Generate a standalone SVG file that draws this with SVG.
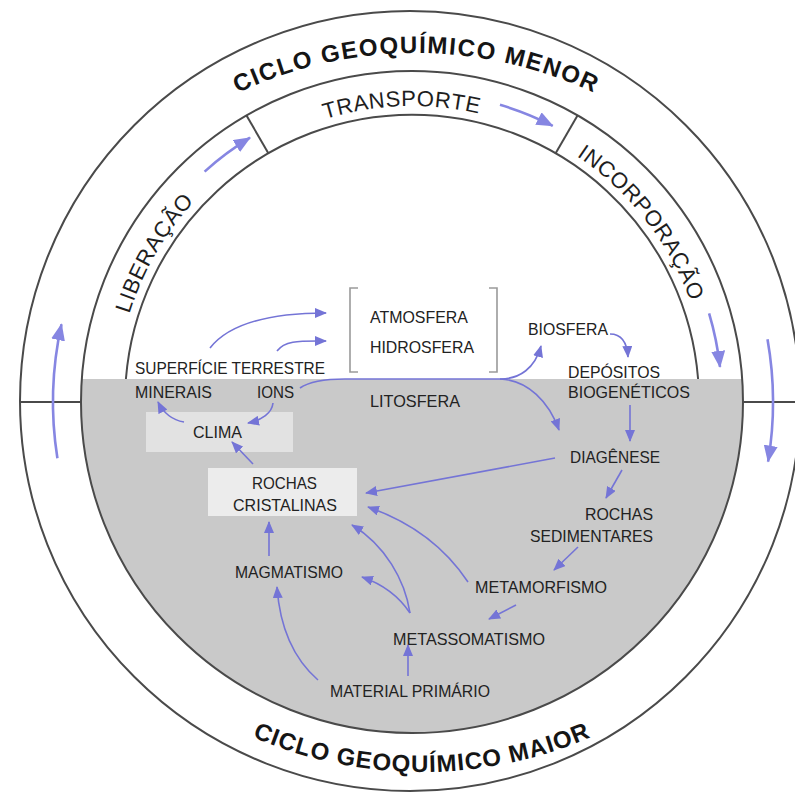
<svg xmlns="http://www.w3.org/2000/svg" width="795" height="793" viewBox="0 0 795 793">
<defs>
<style>
.ring{fill:none;stroke:#4a4a4a;stroke-width:2}
.big{font-family:'Liberation Sans',Arial,sans-serif;font-weight:bold;font-size:24px;fill:#151515;letter-spacing:1.5px}
.mid{font-family:'Liberation Sans',Arial,sans-serif;font-size:22px;fill:#1e1e1e;letter-spacing:0.6px}
.lbl{font-family:'Liberation Sans',Arial,sans-serif;font-size:17px;fill:#222}
.ca{fill:none;stroke:#7474d6;stroke-width:1.6}
.ra{fill:none;stroke:#8686e2;stroke-width:2.6}
.brk{fill:none;stroke:#9a9a9a;stroke-width:1.6}
</style>
<marker id="ah" markerUnits="userSpaceOnUse" markerWidth="12" markerHeight="10" refX="11" refY="5" orient="auto">
<path d="M0,0 L12,5 L0,10 z" fill="#7474d6"/>
</marker>
<marker id="ahb" markerUnits="userSpaceOnUse" markerWidth="17" markerHeight="14" refX="16" refY="7" orient="auto">
<path d="M0,0 L17,7 L0,14 z" fill="#8686e2"/>
</marker>
<path id="pMenor" d="M148,150.6 A417,417 0 0 1 684,150.6"/>
<path id="pMaior" d="M147.5,672.1 A427,427 0 0 0 696.5,672.1"/>
<path id="pLib" d="M116,402 A296,296 0 0 1 264,145.7"/>
<path id="pTra" d="M255.1,151 A296,296 0 0 1 551,140.7"/>
<path id="pInc" d="M522.9,127.6 A296,296 0 0 1 705.1,360.8"/>
</defs>
<rect width="795" height="793" fill="#ffffff"/>

<g id="rings">
<circle class="ring" cx="410" cy="401" r="390"/>
<path d="M81.8,379 L742.2,379 A331,331 0 1 1 81.8,379 Z" fill="#c9c9c9"/>
<circle class="ring" cx="412" cy="402" r="331"/>
<path class="ring" d="M125.9,379 A287,287 0 0 1 698.1,379"/>
<line class="ring" x1="20" y1="402" x2="81" y2="402"/>
<line class="ring" x1="743" y1="402" x2="795" y2="402"/>
<line class="ring" x1="246.5" y1="115.4" x2="268.5" y2="153.5"/>
<line class="ring" x1="577.5" y1="115.4" x2="555.5" y2="153.5"/>
<rect x="146" y="412" width="147" height="40" fill="#e2e2e2"/>
<rect x="208" y="468" width="149" height="48" fill="#ececec"/>
</g>

<g id="ring-labels">
<text class="big"><textPath href="#pMenor" startOffset="106.6">CICLO</textPath></text>
<text class="big"><textPath href="#pMenor" startOffset="197">GEOQUÍMICO</textPath></text>
<text class="big"><textPath href="#pMenor" startOffset="378.9">MENOR</textPath></text>
<text class="big" style="letter-spacing:1px"><textPath href="#pMaior" startOffset="50%" text-anchor="middle">CICLO GEOQUÍMICO MAIOR</textPath></text>
<text class="mid"><textPath href="#pLib" startOffset="50%" text-anchor="middle">LIBERAÇÃO</textPath></text>
<text class="mid"><textPath href="#pTra" startOffset="50%" text-anchor="middle">TRANSPORTE</textPath></text>
<text class="mid"><textPath href="#pInc" startOffset="50%" text-anchor="middle">INCORPORAÇÃO</textPath></text>
</g>

<g id="n-atmos-hidro">
<path class="brk" d="M358,288 L350,288 L350,372 L358,372"/>
<path class="brk" d="M489,288 L497,288 L497,372 L489,372"/>
<text class="lbl" x="370" y="323" textLength="98" lengthAdjust="spacingAndGlyphs">ATMOSFERA</text>
<text class="lbl" x="370" y="353" textLength="104" lengthAdjust="spacingAndGlyphs">HIDROSFERA</text>
</g>
<g id="n-superficie"><text class="lbl" x="135" y="374" textLength="190" lengthAdjust="spacingAndGlyphs">SUPERFÍCIE TERRESTRE</text></g>
<g id="n-minerais"><text class="lbl" x="135" y="398" textLength="77" lengthAdjust="spacingAndGlyphs">MINERAIS</text></g>
<g id="n-ions"><text class="lbl" x="257" y="398" textLength="37" lengthAdjust="spacingAndGlyphs">IONS</text></g>
<g id="n-litosfera"><text class="lbl" x="370" y="407" textLength="90" lengthAdjust="spacingAndGlyphs">LITOSFERA</text></g>
<g id="n-clima"><text class="lbl" x="193" y="438" textLength="49" lengthAdjust="spacingAndGlyphs">CLIMA</text></g>
<g id="n-biosfera"><text class="lbl" x="528" y="335" textLength="80" lengthAdjust="spacingAndGlyphs">BIOSFERA</text></g>
<g id="n-depositos">
<text class="lbl" x="568" y="378" textLength="92" lengthAdjust="spacingAndGlyphs">DEPÓSITOS</text>
<text class="lbl" x="568" y="398" textLength="122" lengthAdjust="spacingAndGlyphs">BIOGENÉTICOS</text>
</g>
<g id="n-diagenese"><text class="lbl" x="570" y="463" textLength="90" lengthAdjust="spacingAndGlyphs">DIAGÊNESE</text></g>
<g id="n-sedimentares">
<text class="lbl" x="585" y="520" textLength="68" lengthAdjust="spacingAndGlyphs">ROCHAS</text>
<text class="lbl" x="530" y="542" textLength="123" lengthAdjust="spacingAndGlyphs">SEDIMENTARES</text>
</g>
<g id="n-metamorfismo"><text class="lbl" x="475" y="593" textLength="132" lengthAdjust="spacingAndGlyphs">METAMORFISMO</text></g>
<g id="n-cristalinas">
<text class="lbl" x="252" y="489" textLength="65" lengthAdjust="spacingAndGlyphs">ROCHAS</text>
<text class="lbl" x="233" y="511" textLength="104" lengthAdjust="spacingAndGlyphs">CRISTALINAS</text>
</g>
<g id="n-magmatismo"><text class="lbl" x="235" y="578" textLength="108" lengthAdjust="spacingAndGlyphs">MAGMATISMO</text></g>
<g id="n-metassomatismo"><text class="lbl" x="393" y="645" textLength="152" lengthAdjust="spacingAndGlyphs">METASSOMATISMO</text></g>
<g id="n-material"><text class="lbl" x="330" y="697" textLength="160" lengthAdjust="spacingAndGlyphs">MATERIAL PRIMÁRIO</text></g>

<g id="connectors">
<path class="ra" marker-end="url(#ahb)" d="M57.4,458.2 A359,359 0 0 1 61.5,324.3"/>
<path class="ra" marker-end="url(#ahb)" d="M767.5,339.3 A361,361 0 0 1 768.1,461.6"/>
<path class="ra" marker-end="url(#ahb)" d="M204.6,171.6 A310,310 0 0 1 250,137.7"/>
<path class="ra" marker-end="url(#ahb)" d="M500,104.8 A310,310 0 0 1 552.7,125.8"/>
<path class="ra" marker-end="url(#ahb)" d="M709.1,313.4 A310,310 0 0 1 720,366.9"/>

<path class="ca" marker-end="url(#ah)" d="M210,348 C228,325 265,313 326,313"/>
<path class="ca" marker-end="url(#ah)" d="M277,351 C285,340 300,341 326,341"/>
<path class="ca" marker-end="url(#ah)" d="M300,388 C310,381 325,379 345,379 L500,379 C520,379 535,368 541,346"/>
<path class="ca" marker-end="url(#ah)" d="M500,379 C528,380 549,402 559,430"/>
<path class="ca" marker-end="url(#ah)" d="M610,334 C620,334 627,341 628,357"/>
<path class="ca" marker-end="url(#ah)" d="M630,405 L630,441"/>
<path class="ca" marker-end="url(#ah)" d="M555,458 L366,493"/>
<path class="ca" marker-end="url(#ah)" d="M622,470 L606,498"/>
<path class="ca" marker-end="url(#ah)" d="M578,547 L554,570"/>
<path class="ca" marker-end="url(#ah)" d="M468,582 C450,555 420,525 368,507"/>
<path class="ca" marker-end="url(#ah)" d="M516,605 L489,619"/>
<path class="ca" marker-end="url(#ah)" d="M410,613 C405,580 385,545 352,525"/>
<path class="ca" marker-end="url(#ah)" d="M410,613 C400,598 385,585 362,577"/>
<path class="ca" marker-end="url(#ah)" d="M269,556 L269,522"/>
<path class="ca" marker-end="url(#ah)" d="M318,680 C295,660 280,630 277,587"/>
<path class="ca" marker-end="url(#ah)" d="M408,676 L408,645"/>
<path class="ca" marker-end="url(#ah)" d="M273,403 C272,413 262,420 248,423"/>
<path class="ca" marker-end="url(#ah)" d="M184,422 C172,420 163,412 158,402"/>
<path class="ca" marker-end="url(#ah)" d="M253,464 L232,442"/>
</g>
</svg>
